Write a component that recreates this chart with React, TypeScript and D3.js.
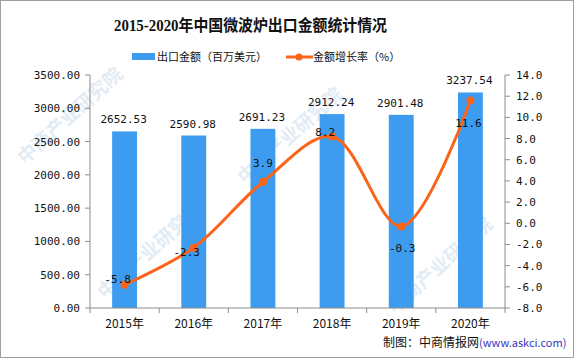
import React from "react";
import * as d3 from "d3";

// 2015-2020 microwave oven export data
const years = ["2015年", "2016年", "2017年", "2018年", "2019年", "2020年"];
const exportValues = [2652.53, 2590.98, 2691.23, 2912.24, 2901.48, 3237.54];
const growthRates = [-5.8, -2.3, 3.9, 8.2, -0.3, 11.6];
const leftTicks = [0, 500, 1000, 1500, 2000, 2500, 3000, 3500];
const rightTicks = [-8, -6, -4, -2, 0, 2, 4, 6, 8, 10, 12, 14];

// where excel dropped the growth labels, relative to each dot
const growthLabelShift = [
  [-7, -6], [-7, 4], [0, -19], [-7, -4], [1, 22], [-2, 23],
];

const W = 575;
const H = 359;
const left = 90;
const right = 505;
const top = 75;
const bottom = 308;

const BAR = "#3d9cf0";
const LINE = "#fa6419";
const AXIS = "#8c8c8c";
const numFont = "'DejaVu Sans Mono', monospace";
const cjkFont = "'Noto Sans CJK SC', 'Noto Sans', sans-serif";

const marks = [
  [105, 300], [245, 185], [395, 315], [25, 165],
];

function App() {
  const x = d3.scaleBand().domain(years).range([left, right]);
  const yL = d3.scaleLinear().domain([0, 3500]).range([bottom, top]);
  const yR = d3.scaleLinear().domain([-8, 14]).range([bottom, top]);
  const bw = x.bandwidth() * 0.36;
  const cx = (d) => (x(d) as number) + x.bandwidth() / 2;

  const pts = years.map((d, i) => [cx(d), yR(growthRates[i])] as [number, number]);
  const path = d3.line().curve(d3.curveCatmullRom.alpha(0.5))(pts) || "";

  const bounds = years.map((d) => x(d) as number).concat([right]);

  return (
    <svg
      width={W}
      height={H}
      style={{ position: "absolute", left: 0, top: 0, background: "#fff" }}
    >
      <rect x={0.5} y={0.5} width={573} height={357} fill="#fff" stroke="#a0a0a0" />

      {/* watermark, under the chart */}
      {marks.map((m, i) => (
        <text
          key={i}
          x={m[0]}
          y={m[1]}
          transform={`rotate(-42 ${m[0]} ${m[1]})`}
          fontSize={19}
          fontWeight="bold"
          fontFamily={cjkFont}
          fill="#cfe0f0"
          opacity={0.6}
        >
          中商产业研究院
        </text>
      ))}

      <text
        x={114}
        y={31}
        textLength={273}
        lengthAdjust="spacingAndGlyphs"
        fontSize={16}
        fontWeight="bold"
        fontFamily={"'Liberation Serif', 'Noto Sans CJK SC', serif"}
        fill="#111"
      >
        2015-2020年中国微波炉出口金额统计情况
      </text>

      {/* legend */}
      <rect x={132} y={53} width={23} height={7} fill={BAR} />
      <text x={157} y={61} fontSize={11} fontFamily={cjkFont} fill="#111">
        出口金额（百万美元）
      </text>
      <line x1={286} x2={313} y1={57} y2={57} stroke={LINE} strokeWidth={3} />
      <circle cx={299} cy={57} r={3.5} fill={LINE} />
      <text x={313} y={61} fontSize={11} fontFamily={cjkFont} fill="#111">
        金额增长率（%）
      </text>

      {/* bars */}
      {years.map((d, i) => (
        <rect
          key={d}
          x={cx(d) - bw / 2}
          y={yL(exportValues[i])}
          width={bw}
          height={bottom - yL(exportValues[i])}
          fill={BAR}
        />
      ))}
      {years.map((d, i) => (
        <text
          key={d}
          x={cx(d) - 1}
          y={yL(exportValues[i]) - 8}
          textAnchor="middle"
          fontSize={11}
          fontFamily={numFont}
          fill="#111"
        >
          {exportValues[i].toFixed(2)}
        </text>
      ))}

      {/* left axis */}
      <line x1={left} x2={left} y1={top} y2={bottom} stroke={AXIS} />
      {leftTicks.map((t) => (
        <g key={t}>
          <line x1={left - 5} x2={left} y1={yL(t)} y2={yL(t)} stroke={AXIS} />
          <text
            x={80}
            y={yL(t) + 4}
            textAnchor="end"
            fontSize={11}
            fontFamily={numFont}
            fill="#111"
          >
            {t.toFixed(2)}
          </text>
        </g>
      ))}

      {/* right axis */}
      <line x1={right} x2={right} y1={top} y2={bottom} stroke={AXIS} />
      {rightTicks.map((t) => (
        <g key={t}>
          <line x1={right} x2={right + 5} y1={yR(t)} y2={yR(t)} stroke={AXIS} />
          <text
            x={516}
            y={yR(t) + 4}
            fontSize={11}
            fontFamily={numFont}
            fill="#111"
          >
            {t.toFixed(1)}
          </text>
        </g>
      ))}

      {/* x axis */}
      <line x1={left} x2={right} y1={bottom} y2={bottom} stroke={AXIS} />
      {bounds.map((b, i) => (
        <line key={i} x1={b} x2={b} y1={bottom} y2={bottom + 5} stroke={AXIS} />
      ))}
      {years.map((d) => (
        <text
          key={d}
          x={cx(d)}
          y={328}
          textAnchor="middle"
          fontSize={12}
          fontFamily={cjkFont}
          fill="#111"
        >
          {d}
        </text>
      ))}

      {/* growth line */}
      <path d={path} fill="none" stroke={LINE} strokeWidth={3} />
      {pts.map((p, i) => (
        <circle key={i} cx={p[0]} cy={p[1]} r={4} fill={LINE} />
      ))}
      {pts.map((p, i) => (
        <text
          key={i}
          x={p[0] + growthLabelShift[i][0]}
          y={p[1] + growthLabelShift[i][1] + 4}
          textAnchor="middle"
          fontSize={11}
          fontFamily={numFont}
          fill="#111"
        >
          {growthRates[i].toFixed(1)}
        </text>
      ))}

      <text x={383} y={347} fontSize={12} fontFamily={cjkFont} fill="#111">
        制图：中商情报网
        <tspan fill="#3535c0" fontSize={11}>(www.askci.com)</tspan>
      </text>
    </svg>
  );
}

export default App;
